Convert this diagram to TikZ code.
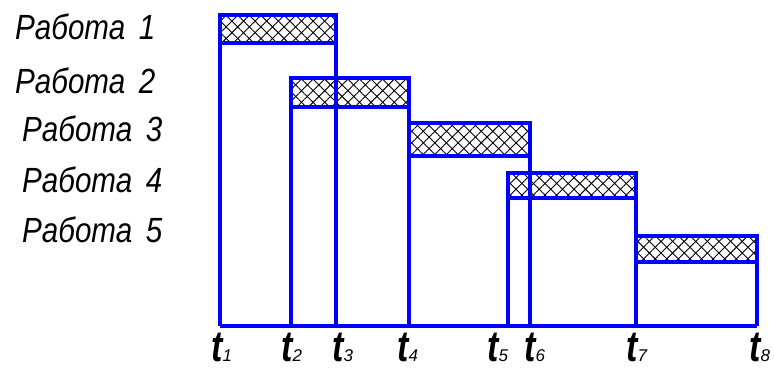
\documentclass[tikz,border=0pt]{standalone}
\usepackage{fontspec}
\setmainfont{Liberation Sans}
\usetikzlibrary{patterns.meta}
\begin{document}
\begin{tikzpicture}[x=1pt,y=-1pt,
  bluel/.style={draw={rgb,255:red,0;green,0;blue,255},line width=3.4pt,line join=miter},
  hatchA/.style={pattern={Lines[angle=45,distance=8.2pt,line width=0.9pt]},pattern color=black},
  hatchB/.style={pattern={Lines[angle=-45,distance=8.2pt,line width=0.9pt]},pattern color=black},
  jlab/.style={anchor=base west,inner sep=0pt,font=\fontsize{35}{40}\selectfont\itshape},
  tlab/.style={anchor=base west,inner sep=0pt,font=\fontsize{34}{40}\selectfont\itshape}]
\useasboundingbox (0,0) rectangle (774,369);
\newcommand{\job}[4]{%
  \fill[hatchA] (#1,#3) rectangle (#2,#4);
  \fill[hatchB] (#1,#3) rectangle (#2,#4);}
\newcommand{\jobframe}[4]{%
  \draw[bluel] (#1,326) -- (#1,#3) -- (#2,#3) -- (#2,326);
  \draw[bluel] (#1,#4) -- (#2,#4);}
\job{220}{336}{15}{43}
\job{291}{409}{78}{107}
\job{409}{530}{123}{156}
\job{508}{636}{173}{198}
\job{636}{757}{236}{262}
\jobframe{220}{336}{15}{43}
\jobframe{291}{409}{78}{107}
\jobframe{409}{530}{123}{156}
\jobframe{508}{636}{173}{198}
\jobframe{636}{757}{236}{262}
\draw[bluel] (220,326) -- (757,326);
\newcommand{\rab}[1]{\scalebox{0.845}[1]{Работа\hspace{0.46em}#1}}
\node[jlab] (r1) at (15,40) {\rab{1}};
\node[jlab] (r2) at (15,93) {\rab{2}};
\node[jlab] (r3) at (22,141) {\rab{3}};
\node[jlab] (r4) at (22,192) {\rab{4}};
\node[jlab] (r5) at (22,242) {\rab{5}};
\newcommand{\tl}[1]{\scalebox{1}[1.28]{\bfseries t}{\fontsize{17}{17}\selectfont #1}}
\node[tlab] (t1) at (211,361) {\tl{1}};
\node[tlab] (t2) at (281,361) {\tl{2}};
\node[tlab] (t3) at (332,361) {\tl{3}};
\node[tlab] (t4) at (397,361) {\tl{4}};
\node[tlab] (t5) at (487,361) {\tl{5}};
\node[tlab] (t6) at (524,361) {\tl{6}};
\node[tlab] (t7) at (626,361) {\tl{7}};
\node[tlab] (t8) at (749,361) {\tl{8}};
\end{tikzpicture}
\end{document}
